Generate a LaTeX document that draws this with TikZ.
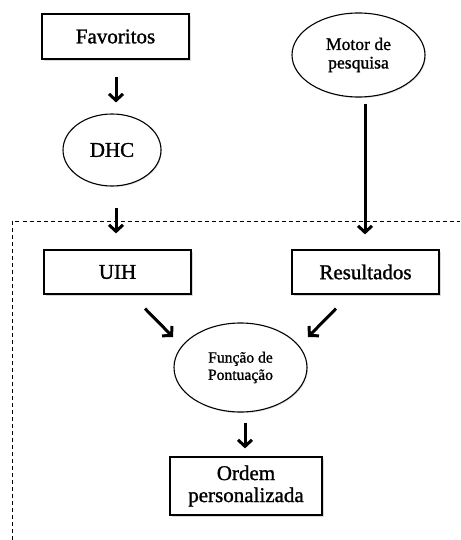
\documentclass[tikz,border=0pt]{standalone}
\usepackage{fontspec}
\setmainfont{Liberation Serif}
% a slightly heavier cut of the text face for the labels
\newfontfamily\labelface[FakeBold=1.2]{Liberation Serif}
\usetikzlibrary{arrows.meta,shadows,shapes.geometric}
\begin{document}
\begin{tikzpicture}[x=1pt,y=-1pt,
  bigtext/.style={font=\labelface\fontsize{21}{22}\selectfont, align=center},
  boxnode/.style={draw, line width=1.2pt, rectangle, inner sep=0pt, fill=white,
    drop shadow={shadow xshift=1.5pt, shadow yshift=-1.8pt, opacity=0.3}},
  ovalnode/.style={draw, line width=1.1pt, ellipse, inner sep=0pt, fill=white,
    drop shadow={shadow xshift=1pt, shadow yshift=-1.2pt, opacity=0.2}},
  flow/.style={line width=3pt, -{Straight Barb[length=6.5pt,width=14pt]}},
  frame/.style={line width=0.9pt, dash pattern=on 4pt off 3pt},
]
\useasboundingbox (0,0) rectangle (460,540);

% upper stage
\node[boxnode, bigtext, minimum width=147pt, minimum height=45pt] (fav) at (115.5,36.5) {Favoritos};
\node[ovalnode, minimum width=133pt, minimum height=84pt, align=center,
  font=\labelface\fontsize{17.6}{18.5}\selectfont] (motor) at (358.5,55) {Motor de\\pesquisa};
\node[ovalnode, bigtext, minimum width=98pt, minimum height=72pt] (dhc) at (112,150) {DHC};

% dashed frame of the personalised part
\coordinate (frametl) at (12,221.5);
\coordinate (frametr) at (460,221.5);
\coordinate (framebl) at (12,540);
\draw[frame] (framebl) -- (frametl) -- (frametr);

% lower stage
\node[boxnode, bigtext, minimum width=147pt, minimum height=44pt] (uih) at (117.5,272) {UIH};
\node[boxnode, bigtext, minimum width=147pt, minimum height=44pt] (res) at (365.5,272) {Resultados};
\node[ovalnode, minimum width=133pt, minimum height=89pt, align=center,
  font=\labelface\fontsize{15.6}{17.3}\selectfont] (fun) at (240.5,367.5) {Função de\\Pontuação};
\node[boxnode, bigtext, minimum width=152pt, minimum height=58pt] (ord) at (246,486) {Ordem\\personalizada};

% connectors
\draw[flow] ([shift={(0.5,17)}]fav.south) -- ([shift={(4,-11)}]dhc.north);
\draw[flow] ([shift={(4,21)}]dhc.south) -- ([shift={(-1.5,-16)}]uih.north);
\draw[flow] ([shift={(6.5,6)}]motor.south) -- ([shift={(-0.5,-15)}]res.north);
\draw[flow] ([shift={(27.5,14)}]uih.south) -- ([shift={(-67.5,-30.5)}]fun.center);
\draw[flow] ([shift={(-29.5,14)}]res.south) -- ([shift={(67.5,-30.5)}]fun.center);
\draw[flow] ([shift={(4.5,10)}]fun.south) -- ([shift={(-1,-8)}]ord.north);
\end{tikzpicture}
\end{document}
